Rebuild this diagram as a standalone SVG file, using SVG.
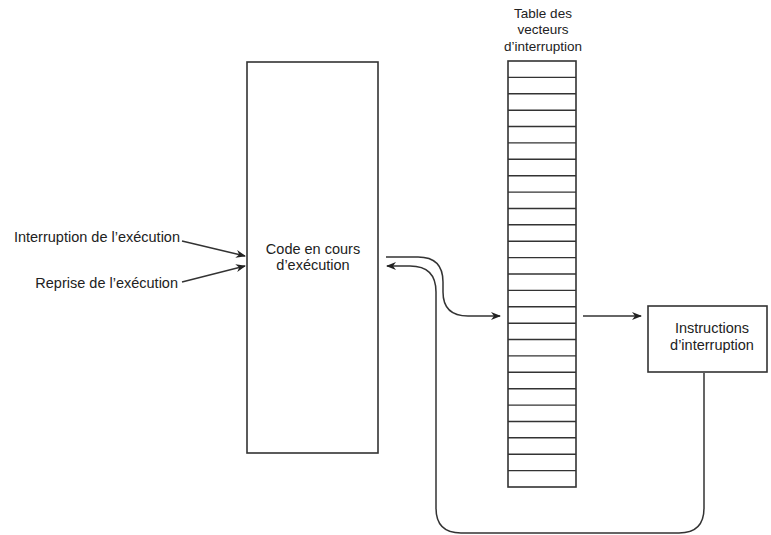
<svg xmlns="http://www.w3.org/2000/svg" width="771" height="535" viewBox="0 0 771 535">
<style>
.box{fill:#fff;stroke:#333;stroke-width:1.6}
.row{stroke:#333;stroke-width:1.4}
.lbl{font-family:"Liberation Sans",Arial,sans-serif;font-size:14.5px;fill:#222;text-anchor:middle}
.ttl{font-family:"Liberation Sans",Arial,sans-serif;font-size:13.5px;fill:#222;text-anchor:middle}
.lbl-end{font-family:"Liberation Sans",Arial,sans-serif;font-size:14.5px;fill:#222;text-anchor:end}
.edge{fill:none;stroke:#333;stroke-width:1.5}
</style>
<defs>
<marker id="arrL" viewBox="0 0 10 10" refX="9" refY="5" markerWidth="10" markerHeight="10" orient="auto" markerUnits="userSpaceOnUse">
<path d="M0 1 L10 5 L0 9 L3 5 Z" fill="#222"/>
</marker>
</defs>
<g id="code">
<rect class="box" x="247" y="62" width="131" height="391"/>
<text class="lbl" x="313" y="254">Code en cours</text>
<text class="lbl" x="313" y="270">d’exécution</text>
</g>
<g id="table">
<text class="ttl" x="543" y="18">Table des</text>
<text class="ttl" x="543" y="34">vecteurs</text>
<text class="ttl" x="543" y="51">d’interruption</text>
<rect class="box" x="508" y="61" width="68" height="426"/>
<g class="row">
<line x1="508" y1="77.4" x2="576" y2="77.4"/>
<line x1="508" y1="93.8" x2="576" y2="93.8"/>
<line x1="508" y1="110.2" x2="576" y2="110.2"/>
<line x1="508" y1="126.5" x2="576" y2="126.5"/>
<line x1="508" y1="142.9" x2="576" y2="142.9"/>
<line x1="508" y1="159.3" x2="576" y2="159.3"/>
<line x1="508" y1="175.7" x2="576" y2="175.7"/>
<line x1="508" y1="192.1" x2="576" y2="192.1"/>
<line x1="508" y1="208.5" x2="576" y2="208.5"/>
<line x1="508" y1="224.8" x2="576" y2="224.8"/>
<line x1="508" y1="241.2" x2="576" y2="241.2"/>
<line x1="508" y1="257.6" x2="576" y2="257.6"/>
<line x1="508" y1="274" x2="576" y2="274"/>
<line x1="508" y1="290.4" x2="576" y2="290.4"/>
<line x1="508" y1="306.8" x2="576" y2="306.8"/>
<line x1="508" y1="323.2" x2="576" y2="323.2"/>
<line x1="508" y1="339.5" x2="576" y2="339.5"/>
<line x1="508" y1="355.9" x2="576" y2="355.9"/>
<line x1="508" y1="372.3" x2="576" y2="372.3"/>
<line x1="508" y1="388.7" x2="576" y2="388.7"/>
<line x1="508" y1="405.1" x2="576" y2="405.1"/>
<line x1="508" y1="421.5" x2="576" y2="421.5"/>
<line x1="508" y1="437.8" x2="576" y2="437.8"/>
<line x1="508" y1="454.2" x2="576" y2="454.2"/>
<line x1="508" y1="470.6" x2="576" y2="470.6"/>
</g>
</g>
<g id="instructions">
<rect class="box" x="648" y="306" width="119" height="66"/>
<text class="lbl" x="712" y="333">Instructions</text>
<text class="lbl" x="712" y="350">d’interruption</text>
</g>
<g id="labels">
<text class="lbl-end" x="180" y="242">Interruption de l’exécution</text>
<text class="lbl-end" x="178" y="288">Reprise de l’exécution</text>
</g>
<g id="connectors">
<path class="edge" d="M182 241 L245 256" marker-end="url(#arrL)"/>
<path class="edge" d="M182 282 L245 266" marker-end="url(#arrL)"/>
<path class="edge" d="M386 257 H418 Q443 257 443 282 V292 Q443 316 468 316 H500" marker-end="url(#arrL)"/>
<path class="edge" d="M583 316 H641" marker-end="url(#arrL)"/>
<path class="edge" d="M704 373 V508 Q704 533 679 533 H461 Q436 533 436 508 V292 Q436 266 410 266 H387" marker-end="url(#arrL)"/>
</g>
</svg>
